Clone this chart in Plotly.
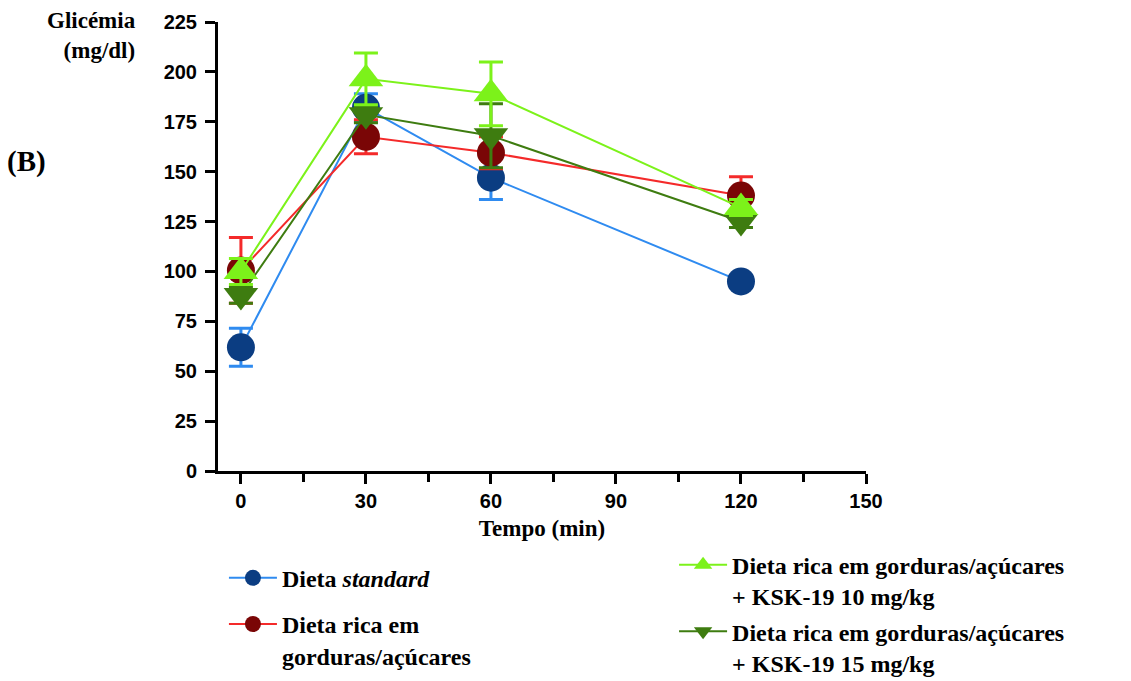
import plotly.graph_objects as go

time_min = [0, 30, 60, 120]

std_mean = [62, 182, 147, 95]
std_sem = [9.5, 7, 11, 3]

hfd_mean = [100.5, 167.5, 159.5, 138]
hfd_sem = [16.5, 8.5, 8, 9.5]

ksk10_mean = [100, 196.5, 189, 132]
ksk10_sem = [6.5, 13, 16, 4]

ksk15_mean = [88, 178.5, 168, 125]
ksk15_sem = [4, 4, 16, 3]

x_ticks = [0, 30, 60, 90, 120, 150]
y_ticks = [0, 25, 50, 75, 100, 125, 150, 175, 200, 225]

series = [
    dict(name="Dieta <i>standard</i>", y=std_mean, e=std_sem, line="#2F8BF0",
         marker="#0B3D82", symbol="circle", size=28, legend="legend", rank=1),
    dict(name="Dieta rica em<br>gorduras/açúcares", y=hfd_mean, e=hfd_sem, line="#F42A2A",
         marker="#7A0606", symbol="circle", size=28, legend="legend", rank=2),
    dict(name="Dieta rica em gorduras/açúcares<br>+ KSK-19 15 mg/kg", y=ksk15_mean, e=ksk15_sem,
         line="#3E7C10", marker="#3E7C10", symbol="triangle-down", size=30,
         legend="legend2", rank=4),
    dict(name="Dieta rica em gorduras/açúcares<br>+ KSK-19 10 mg/kg", y=ksk10_mean, e=ksk10_sem,
         line="#7CF21A", marker="#7CF21A", symbol="triangle-up", size=30,
         legend="legend2", rank=3),
]

fig = go.Figure()
for i, s in enumerate(series):
    fig.add_trace(go.Scatter(
        x=time_min, y=s["y"], name=s["name"], mode="lines+markers",
        line=dict(color=s["line"], width=2),
        marker=dict(color=s["marker"], size=s["size"], symbol=s["symbol"], line=dict(width=0)),
        error_y=dict(type="data", array=s["e"], visible=True, color=s["line"],
                     thickness=3, width=12),
        legend=s["legend"], legendgroup="g%d" % i, cliponaxis=False,
        legendrank=s["rank"],
    ))

serif = "Liberation Serif"
sans = "Liberation Sans"

fig.update_layout(
    width=1131, height=681,
    margin=dict(l=218, r=265, t=22, b=210, autoexpand=False),
    plot_bgcolor="white", paper_bgcolor="white",
    showlegend=True,
    legend=dict(xref="container", yref="container", x=0.198, y=0.184,
                xanchor="left", yanchor="top", valign="top",
                font=dict(family=serif, size=24, color="black", weight="bold"),
                tracegroupgap=12, bgcolor="rgba(0,0,0,0)", itemwidth=48,
                traceorder="grouped"),
    legend2=dict(xref="container", yref="container", x=0.596, y=0.203,
                 xanchor="left", yanchor="top", valign="top",
                 font=dict(family=serif, size=24, color="black", weight="bold"),
                 tracegroupgap=1, bgcolor="rgba(0,0,0,0)", itemwidth=48,
                 traceorder="grouped"),
    xaxis=dict(range=[-5.5, 150], tickvals=x_ticks, ticktext=[str(v) for v in x_ticks],
               showgrid=False, zeroline=False, showline=True, linecolor="black", linewidth=3,
               ticks="outside", ticklen=10, tickwidth=3, tickcolor="black",
               minor=dict(tickvals=[15, 45, 75, 105, 135], ticks="outside", ticklen=8,
                          tickwidth=3, tickcolor="black"),
               tickfont=dict(family=sans, size=20, color="black", weight="bold"),
               title=dict(text="Tempo (min)", standoff=9,
                          font=dict(family=serif, size=23, color="black", weight="bold"))),
    yaxis=dict(range=[0, 225], tickvals=y_ticks, ticktext=[str(v) for v in y_ticks],
               showgrid=False, zeroline=False, showline=True, linecolor="black", linewidth=3,
               ticks="outside", ticklen=10, tickwidth=3, tickcolor="black",
               ticklabelstandoff=4,
               tickfont=dict(family=sans, size=20, color="black", weight="bold")),
)

fig.add_annotation(text="Glicémia<br>(mg/dl)", xref="paper", yref="paper",
                   x=-0.123, y=1.035, xanchor="right", yanchor="top", align="right",
                   showarrow=False,
                   font=dict(family=serif, size=23, color="black", weight="bold"))
fig.add_annotation(text="(B)", xref="paper", yref="paper",
                   x=-0.328, y=0.69, xanchor="left", yanchor="middle",
                   showarrow=False,
                   font=dict(family=serif, size=29, color="black", weight="bold"))

fig.write_html("out.html")
